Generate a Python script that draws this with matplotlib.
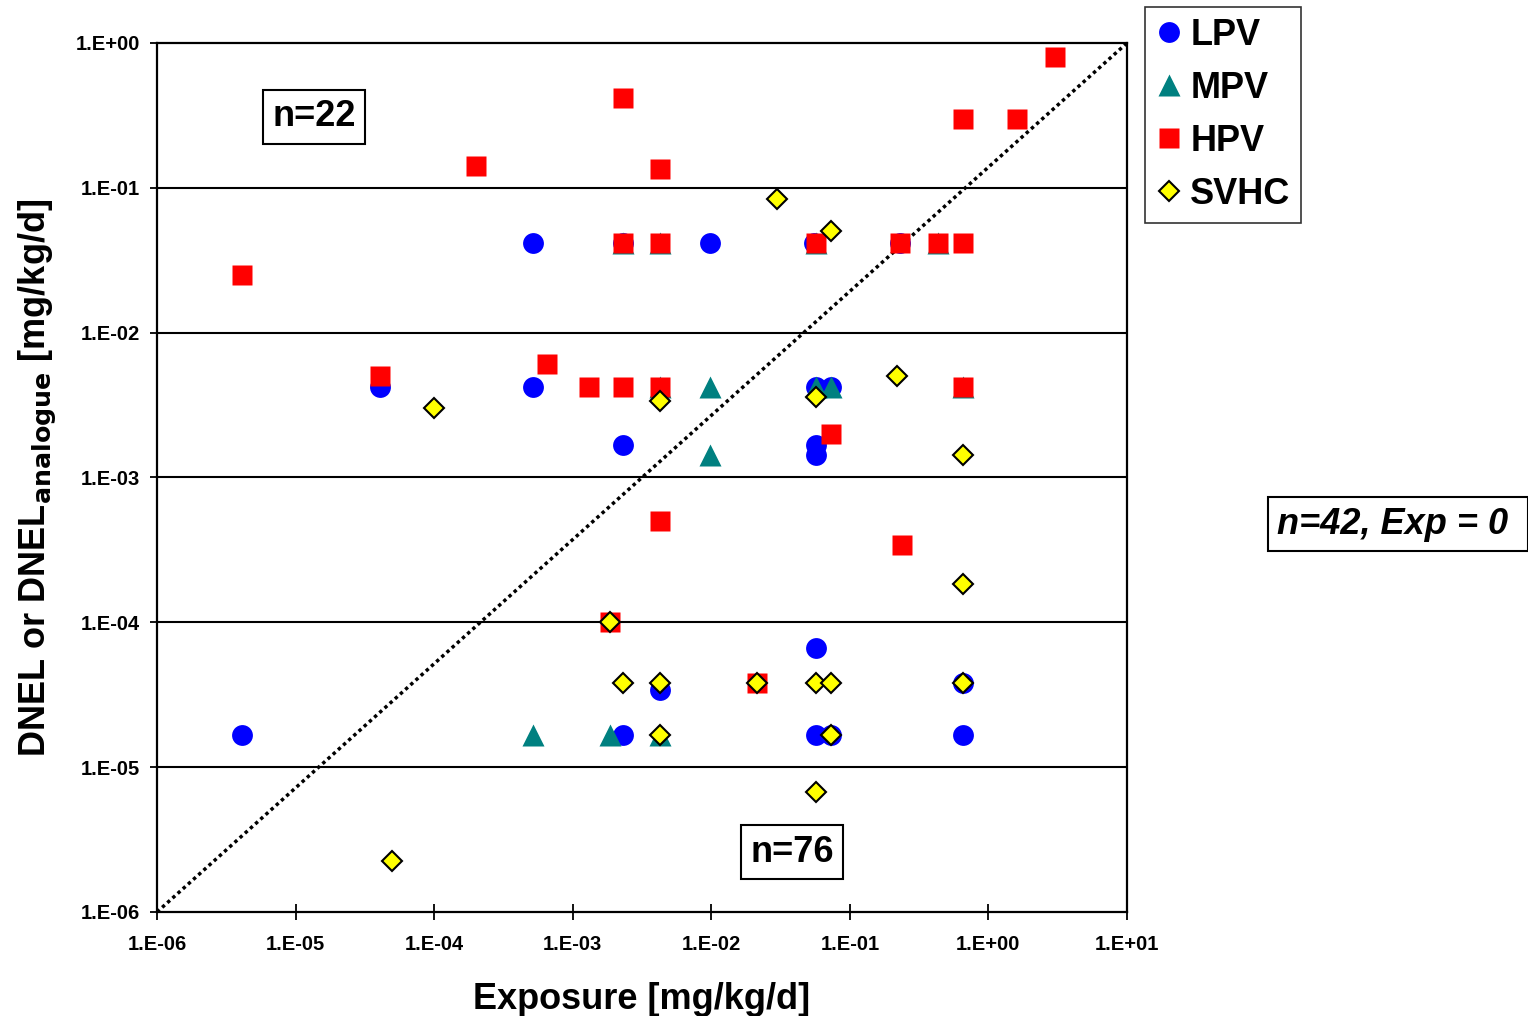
import numpy as np
import matplotlib.pyplot as plt
from matplotlib.ticker import FixedLocator, FuncFormatter, NullLocator

plt.rcParams['font.family'] = ['Liberation Sans', 'DejaVu Sans']
plt.rcParams['font.weight'] = 'bold'
plt.rcParams['mathtext.default'] = 'bf'

# exposure [mg/kg/d] vs DNEL [mg/kg/d]
lpv_x = [4.1e-6, 4.1e-5, 5.2e-4, 5.2e-4, 2.3e-3, 2.3e-3, 9.8e-3, 5.5e-2, 0.23, 5.7e-2,
         7.3e-2, 5.7e-2, 5.7e-2, 4.3e-3, 2.3e-3, 5.7e-2, 5.7e-2, 7.3e-2, 0.65, 0.65]
lpv_y = [1.67e-5, 4.2e-3, 4.17e-2, 4.2e-3, 1.68e-3, 4.17e-2, 4.17e-2, 4.17e-2, 4.17e-2, 4.2e-3,
         4.2e-3, 1.68e-3, 1.43e-3, 3.4e-5, 1.67e-5, 6.6e-5, 1.67e-5, 1.67e-5, 3.8e-5, 1.67e-5]

mpv_x = [5.2e-4, 1.85e-3, 4.3e-3, 9.8e-3, 9.8e-3, 5.7e-2, 7.3e-2, 2.3e-3, 4.3e-3, 5.7e-2,
         0.43, 4.3e-3, 0.65]
mpv_y = [1.67e-5, 1.67e-5, 1.67e-5, 4.2e-3, 1.43e-3, 4.2e-3, 4.2e-3, 4.17e-2, 4.17e-2, 4.17e-2,
         4.17e-2, 4.2e-3, 4.2e-3]

hpv_x = [4.1e-6, 4.1e-5, 2.0e-4, 6.5e-4, 1.3e-3, 2.3e-3, 4.3e-3, 2.3e-3, 4.3e-3, 2.3e-3,
         4.3e-3, 5.7e-2, 0.23, 0.43, 0.65, 0.65, 1.6, 3.0, 0.65, 7.3e-2,
         4.3e-3, 0.237, 1.85e-3, 2.15e-2]
hpv_y = [0.025, 5.0e-3, 0.142, 6.1e-3, 4.2e-3, 4.2e-3, 4.2e-3, 0.42, 0.135, 4.17e-2,
         4.17e-2, 4.17e-2, 4.17e-2, 4.17e-2, 4.17e-2, 0.30, 0.30, 0.80, 4.2e-3, 2.0e-3,
         5.0e-4, 3.4e-4, 1.0e-4, 3.8e-5]

svhc_x = [3.0e-2, 7.3e-2, 1.0e-4, 4.3e-3, 5.7e-2, 0.22, 0.65, 0.65, 1.85e-3, 2.3e-3,
          4.3e-3, 2.15e-2, 5.7e-2, 7.3e-2, 0.65, 4.3e-3, 7.3e-2, 5.7e-2, 5.0e-5]
svhc_y = [0.084, 0.050, 3.0e-3, 3.4e-3, 3.6e-3, 5.0e-3, 1.43e-3, 1.84e-4, 1.0e-4, 3.8e-5,
          3.8e-5, 3.8e-5, 3.8e-5, 3.8e-5, 3.8e-5, 1.67e-5, 1.67e-5, 6.7e-6, 2.25e-6]

x_ticks = [1e-6, 1e-5, 1e-4, 1e-3, 1e-2, 1e-1, 1e0, 1e1]
y_ticks = [1e-6, 1e-5, 1e-4, 1e-3, 1e-2, 1e-1, 1e0]

fig = plt.figure(figsize=(15.28, 10.16), dpi=100)
ax = fig.add_axes([157/1528, 1-912/1016, 970/1528, 869/1016])

ax.set_xscale('log')
ax.set_yscale('log')
ax.set_xlim(1e-6, 1e1)
ax.set_ylim(1e-6, 1e0)

# horizontal grid only
for yv in y_ticks[1:-1]:
    ax.axhline(yv, color='black', lw=1.5, zorder=1)

# corner to corner dotted line
ax.plot([0, 1], [0, 1], transform=ax.transAxes, color='black', lw=2.5,
        linestyle=(0, (1, 1.0)), zorder=2)

l1, = ax.plot(lpv_x, lpv_y, 'o', color='#0000FF', ms=15, mec='none', label='LPV', zorder=3)
l2, = ax.plot(mpv_x, mpv_y, '^', color='#008080', ms=16.5, mec='none', label='MPV', zorder=4)
l3, = ax.plot(hpv_x, hpv_y, 's', color='#FF0000', ms=15, mec='none', label='HPV', zorder=5)
l4, = ax.plot(svhc_x, svhc_y, 'D', mfc='#FFFF00', mec='black', mew=1.5, ms=10,
              label='SVHC', zorder=6)

fmt = FuncFormatter(lambda v, p: '1.E%+03d' % int(round(np.log10(v))))
ax.xaxis.set_major_locator(FixedLocator(x_ticks))
ax.yaxis.set_major_locator(FixedLocator(y_ticks))
ax.xaxis.set_minor_locator(NullLocator())
ax.yaxis.set_minor_locator(NullLocator())
ax.xaxis.set_major_formatter(fmt)
ax.yaxis.set_major_formatter(fmt)
ax.tick_params(axis='x', direction='inout', length=11, width=1.3, labelsize=14.5, pad=11)
ax.tick_params(axis='y', direction='out', length=5, width=1.3, labelsize=14.5, pad=7)
for s in ax.spines.values():
    s.set_linewidth(1.6)

ax.set_xlabel('Exposure [mg/kg/d]', fontsize=26, fontweight='bold', labelpad=20)
ax.set_ylabel(r'DNEL or DNEL$_{\mathbf{analogue}}$ [mg/kg/d]', fontsize=26,
              fontweight='bold', labelpad=12)

box = dict(boxstyle='square,pad=0.26', fc='white', ec='black', lw=1.5)
fig.text(314/1528, 1-117/1016, 'n=22', fontsize=26, fontweight='bold',
         ha='center', va='center', bbox=box)
fig.text(792/1528, 1-852/1016, 'n=76', fontsize=26, fontweight='bold',
         ha='center', va='center', bbox=box)
fig.text(1277/1528, 1-524/1016, 'n=42, Exp = 0 ', fontsize=26, fontweight='bold',
         fontstyle='italic', ha='left', va='center', bbox=box)

leg = fig.legend(handles=[l1, l2, l3, l4], loc='upper left',
                 bbox_to_anchor=(1145/1528, 1-7/1016), fontsize=26,
                 frameon=True, fancybox=False, edgecolor='black',
                 handlelength=0.75, handletextpad=0.2, labelspacing=0.5,
                 borderpad=0.3, borderaxespad=0, markerscale=1.0)
leg.get_frame().set_linewidth(1.2)
for t in leg.get_texts():
    t.set_fontweight('bold')

fig.savefig('out.png', dpi=100, facecolor='white')
